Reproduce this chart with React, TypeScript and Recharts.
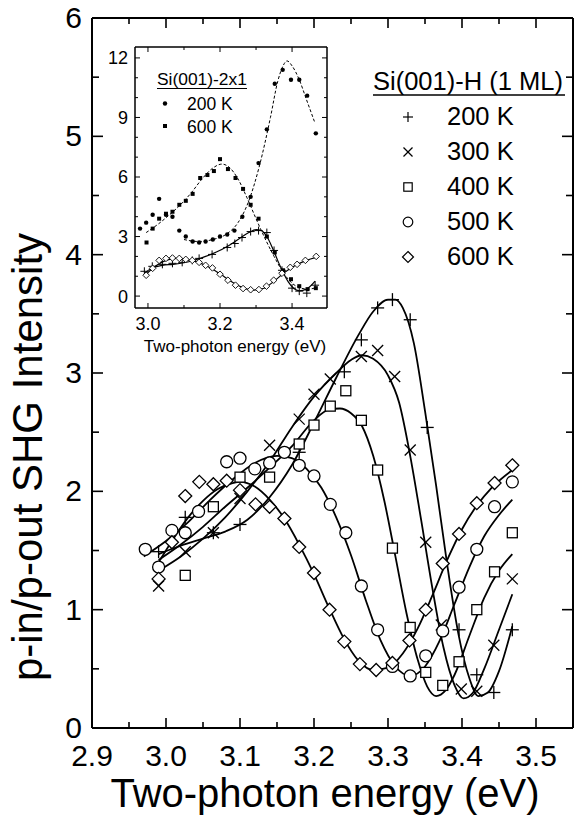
import React from 'react';
import { ComposedChart, Line, Scatter, XAxis, YAxis } from 'recharts';

const FONT = "'Liberation Sans', Arial, Helvetica, sans-serif";

// ---------- Main chart: Si(001)-H (1 ML) measured points ----------
const h200Pts = [[2.99,1.49],[3.026,1.78],[3.064,1.65],[3.10,1.72],[3.18,2.33],[3.241,3.01],[3.264,3.28],[3.286,3.55],[3.306,3.62],[3.33,3.45],[3.353,2.54],[3.396,0.83],[3.42,0.45],[3.443,0.30],[3.468,0.83]];
const h300Pts = [[2.99,1.20],[3.026,1.49],[3.064,1.65],[3.10,1.94],[3.14,2.39],[3.18,2.61],[3.20,2.82],[3.222,2.95],[3.264,3.14],[3.286,3.19],[3.309,2.97],[3.33,2.35],[3.351,1.57],[3.372,0.87],[3.399,0.33],[3.42,0.31],[3.443,0.70],[3.468,1.26]];
const h400Pts = [[3.026,1.29],[3.064,1.87],[3.10,2.12],[3.14,2.12],[3.18,2.40],[3.20,2.56],[3.222,2.72],[3.243,2.85],[3.264,2.60],[3.286,2.18],[3.306,1.52],[3.33,0.85],[3.351,0.47],[3.374,0.36],[3.396,0.56],[3.42,1.00],[3.444,1.32],[3.468,1.65]];
const h500Pts = [[2.972,1.51],[2.99,1.36],[3.008,1.67],[3.026,1.65],[3.044,1.83],[3.082,2.25],[3.10,2.28],[3.12,2.19],[3.14,2.24],[3.16,2.33],[3.18,2.22],[3.20,2.13],[3.222,1.89],[3.243,1.65],[3.264,1.20],[3.286,0.83],[3.306,0.52],[3.33,0.44],[3.351,0.61],[3.374,0.82],[3.396,1.19],[3.42,1.51],[3.444,1.87],[3.468,2.08]];
const h600Pts = [[2.99,1.26],[3.008,1.57],[3.026,1.96],[3.045,2.08],[3.064,2.06],[3.082,2.09],[3.10,2.01],[3.121,1.89],[3.14,1.87],[3.16,1.77],[3.18,1.53],[3.20,1.31],[3.221,1.00],[3.241,0.73],[3.262,0.54],[3.284,0.49],[3.306,0.55],[3.329,0.74],[3.351,1.00],[3.374,1.39],[3.396,1.64],[3.42,1.90],[3.444,2.07],[3.468,2.22]];

// ---------- Main chart: fitted curves ----------
const h200Fit = [[2.99,1.47],[3.02,1.54],[3.05,1.60],[3.08,1.66],[3.11,1.76],[3.14,1.95],[3.17,2.22],[3.20,2.58],[3.23,2.96],[3.26,3.32],[3.28,3.52],[3.30,3.62],[3.31,3.62],[3.32,3.55],[3.335,3.25],[3.35,2.68],[3.365,2.05],[3.38,1.38],[3.395,0.80],[3.41,0.42],[3.422,0.27],[3.435,0.30],[3.45,0.48],[3.468,0.86]];
const h300Fit = [[2.99,1.33],[3.02,1.45],[3.05,1.60],[3.08,1.78],[3.11,2.00],[3.14,2.25],[3.17,2.54],[3.20,2.80],[3.23,3.00],[3.25,3.11],[3.265,3.15],[3.28,3.12],[3.30,2.98],[3.315,2.75],[3.33,2.30],[3.345,1.75],[3.36,1.18],[3.375,0.68],[3.39,0.36],[3.402,0.25],[3.415,0.30],[3.43,0.50],[3.45,0.83],[3.468,1.13]];
const h400Fit = [[2.99,1.42],[3.02,1.55],[3.05,1.70],[3.08,1.87],[3.11,2.03],[3.14,2.20],[3.17,2.38],[3.20,2.60],[3.22,2.69],[3.235,2.70],[3.25,2.66],[3.265,2.55],[3.28,2.30],[3.295,1.92],[3.31,1.45],[3.325,0.97],[3.34,0.58],[3.353,0.35],[3.365,0.27],[3.378,0.32],[3.39,0.45],[3.41,0.78],[3.43,1.10],[3.45,1.33],[3.468,1.47]];
const h500Fit = [[2.97,1.45],[3.00,1.58],[3.03,1.74],[3.06,1.93],[3.09,2.10],[3.12,2.24],[3.15,2.30],[3.17,2.28],[3.19,2.19],[3.21,2.03],[3.23,1.78],[3.25,1.46],[3.27,1.08],[3.29,0.74],[3.31,0.52],[3.33,0.44],[3.35,0.52],[3.37,0.74],[3.39,1.05],[3.41,1.36],[3.43,1.62],[3.45,1.80],[3.468,1.93]];
const h600Fit = [[2.99,1.40],[3.01,1.60],[3.03,1.78],[3.05,1.92],[3.07,2.02],[3.09,2.07],[3.10,2.08],[3.12,2.04],[3.14,1.93],[3.16,1.77],[3.18,1.55],[3.20,1.30],[3.22,1.02],[3.24,0.76],[3.26,0.57],[3.28,0.49],[3.30,0.51],[3.32,0.63],[3.34,0.84],[3.36,1.12],[3.38,1.42],[3.40,1.68],[3.42,1.88],[3.44,2.03],[3.468,2.18]];

// ---------- Inset data ----------
const c200Pts = [[2.978,3.4],[2.995,3.7],[3.013,4.1],[3.031,4.9],[3.05,4.1],[3.068,4.0],[3.087,3.3],[3.105,3.0],[3.124,2.75],[3.142,2.7],[3.16,2.75],[3.18,2.85],[3.2,3.0],[3.22,3.1],[3.24,3.3],[3.262,4.0],[3.285,5.0],[3.307,6.7],[3.33,8.4],[3.352,10.7],[3.374,11.4],[3.397,10.9],[3.42,10.9],[3.442,10.1],[3.466,8.2]];
const c200Fit = [[3.10,2.85],[3.14,2.75],[3.18,2.85],[3.22,3.15],[3.25,3.7],[3.28,4.8],[3.31,6.6],[3.34,9.0],[3.36,10.8],[3.375,11.6],[3.386,11.85],[3.40,11.6],[3.42,10.9],[3.44,9.9],[3.462,8.8]];
const c600Pts = [[2.996,2.7],[3.013,3.4],[3.031,3.9],[3.05,4.15],[3.068,4.25],[3.087,4.6],[3.105,4.8],[3.124,5.15],[3.145,5.95],[3.165,6.1],[3.183,6.3],[3.2,6.9],[3.222,6.4],[3.243,5.95],[3.264,5.4],[3.285,4.6],[3.307,3.9],[3.33,3.0],[3.352,2.2],[3.375,1.3],[3.397,0.85],[3.42,0.5],[3.443,0.35],[3.466,0.4]];
const c600Fit = [[2.995,3.2],[3.03,3.65],[3.06,4.1],[3.09,4.6],[3.12,5.2],[3.15,5.9],[3.18,6.45],[3.205,6.65],[3.225,6.5],[3.25,5.9],[3.275,4.95],[3.30,3.9],[3.325,2.9],[3.35,2.0],[3.375,1.2],[3.40,0.65],[3.425,0.4],[3.445,0.35],[3.462,0.4]];
const i200Pts = [[2.99,1.25],[3.012,1.5],[3.04,1.6],[3.068,1.65],[3.095,1.7],[3.123,1.8],[3.142,1.9],[3.178,2.1],[3.22,2.45],[3.241,2.65],[3.261,2.95],[3.285,3.25],[3.307,3.3],[3.33,3.2],[3.35,2.3],[3.372,1.3],[3.40,0.4],[3.42,0.25],[3.441,0.15],[3.464,0.55]];
const i200Fit = [[2.99,1.15],[3.01,1.4],[3.04,1.55],[3.07,1.6],[3.10,1.68],[3.13,1.82],[3.16,2.0],[3.19,2.22],[3.22,2.5],[3.25,2.85],[3.28,3.2],[3.30,3.35],[3.315,3.3],[3.33,3.0],[3.345,2.45],[3.36,1.8],[3.375,1.2],[3.39,0.7],[3.405,0.38],[3.42,0.27],[3.44,0.35],[3.464,0.75]];
const i600Pts = [[2.995,1.05],[3.013,1.4],[3.031,1.8],[3.05,1.9],[3.068,1.92],[3.087,1.9],[3.105,1.85],[3.123,1.8],[3.142,1.7],[3.16,1.55],[3.179,1.42],[3.2,1.1],[3.222,0.8],[3.243,0.55],[3.264,0.38],[3.285,0.32],[3.308,0.33],[3.329,0.5],[3.349,0.8],[3.372,1.15],[3.395,1.45],[3.414,1.6],[3.437,1.8],[3.467,2.0]];
const i600Fit = [[2.99,1.0],[3.02,1.5],[3.05,1.8],[3.08,1.9],[3.11,1.85],[3.14,1.7],[3.17,1.45],[3.20,1.12],[3.23,0.75],[3.26,0.45],[3.29,0.3],[3.32,0.38],[3.35,0.75],[3.38,1.2],[3.41,1.55],[3.44,1.8],[3.467,1.95]];

// ---------- Axes ----------
const mainXTicks = [2.9,2.95,3.0,3.05,3.1,3.15,3.2,3.25,3.3,3.35,3.4,3.45,3.5];
const mainYTicks = [0,0.5,1,1.5,2,2.5,3,3.5,4,4.5,5,5.5,6];
const insetXTicks = [3.0,3.1,3.2,3.3,3.4];
const insetYTicks = [0,1,2,3,4,5,6,7,8,9,10,11,12];

const legendMain = ['200 K','300 K','400 K','500 K','600 K'];
const legendInset = ['200 K','600 K'];

const toXY = (a: number[][]) => a.map(([x, y]) => ({ x, y }));
const isMult = (v: number, s: number) => Math.abs(v / s - Math.round(v / s)) < 1e-6;

// ---------- marker shapes ----------
const plus = (cx: number, cy: number, r: number, sw: number) => (
  <g stroke="#000" strokeWidth={sw}>
    <line x1={cx - r} x2={cx + r} y1={cy} y2={cy} />
    <line x1={cx} x2={cx} y1={cy - r} y2={cy + r} />
  </g>
);
const cross = (cx: number, cy: number, r: number, sw: number) => (
  <g stroke="#000" strokeWidth={sw}>
    <line x1={cx - r} x2={cx + r} y1={cy - r} y2={cy + r} />
    <line x1={cx - r} x2={cx + r} y1={cy + r} y2={cy - r} />
  </g>
);
const square = (cx: number, cy: number, r: number, sw: number) => (
  <rect x={cx - r} y={cy - r} width={2 * r} height={2 * r} fill="#fff" stroke="#000" strokeWidth={sw} />
);
const circle = (cx: number, cy: number, r: number, sw: number) => (
  <circle cx={cx} cy={cy} r={r} fill="#fff" stroke="#000" strokeWidth={sw} />
);
const diamond = (cx: number, cy: number, r: number, sw: number) => (
  <path d={`M${cx},${cy - r}L${cx + r},${cy}L${cx},${cy + r}L${cx - r},${cy}Z`} fill="#fff" stroke="#000" strokeWidth={sw} />
);
const dot = (cx: number, cy: number, r: number) => <circle cx={cx} cy={cy} r={r} fill="#000" />;
const fsq = (cx: number, cy: number, r: number) => <rect x={cx - r} y={cy - r} width={2 * r} height={2 * r} fill="#000" />;

const shp = (fn: (cx: number, cy: number) => React.ReactElement) => (p: any) => fn(p.cx, p.cy);

// ---------- ticks ----------
const MainBottomTick = (p: any) => {
  const v = p.payload.value; const major = isMult(v, 0.1);
  return (
    <g>
      <line x1={p.x} x2={p.x} y1={p.y} y2={p.y - (major ? 10 : 6)} stroke="#000" strokeWidth={1.6} />
      {major && <text x={p.x} y={p.y + 38} textAnchor="middle" fontSize={30} fontFamily={FONT} fill="#000">{v.toFixed(1)}</text>}
    </g>
  );
};
const MainTopTick = (p: any) => {
  const v = p.payload.value; const major = isMult(v, 0.1);
  return <line x1={p.x} x2={p.x} y1={p.y} y2={p.y + (major ? 10 : 6)} stroke="#000" strokeWidth={1.6} />;
};
const MainLeftTick = (p: any) => {
  const v = p.payload.value; const major = isMult(v, 1);
  return (
    <g>
      <line x1={p.x} x2={p.x + (major ? 11 : 7)} y1={p.y} y2={p.y} stroke="#000" strokeWidth={1.6} />
      {major && <text x={p.x - 10} y={p.y} dy="0.33em" textAnchor="end" fontSize={30} fontFamily={FONT} fill="#000">{String(v)}</text>}
    </g>
  );
};
const MainRightTick = (p: any) => {
  const v = p.payload.value; const major = isMult(v, 1);
  return <line x1={p.x} x2={p.x - (major ? 11 : 7)} y1={p.y} y2={p.y} stroke="#000" strokeWidth={1.6} />;
};
const InsetBottomTick = (p: any) => {
  const v = p.payload.value; const major = isMult(v, 0.2);
  return (
    <g>
      <line x1={p.x} x2={p.x} y1={p.y} y2={p.y - (major ? 5 : 3)} stroke="#000" strokeWidth={1} />
      {major && <text x={p.x} y={p.y + 22} textAnchor="middle" fontSize={18} fontFamily={FONT} fill="#000">{v.toFixed(1)}</text>}
    </g>
  );
};
const InsetTopTick = (p: any) => {
  const v = p.payload.value; const major = isMult(v, 0.2);
  return <line x1={p.x} x2={p.x} y1={p.y} y2={p.y + (major ? 5 : 3)} stroke="#000" strokeWidth={1} />;
};
const InsetLeftTick = (p: any) => {
  const v = p.payload.value; const major = isMult(v, 3);
  return (
    <g>
      <line x1={p.x} x2={p.x + (major ? 5 : 3)} y1={p.y} y2={p.y} stroke="#000" strokeWidth={1} />
      {major && <text x={p.x - 7} y={p.y} dy="0.36em" textAnchor="end" fontSize={18} fontFamily={FONT} fill="#000">{String(v)}</text>}
    </g>
  );
};
const InsetRightTick = (p: any) => {
  const v = p.payload.value; const major = isMult(v, 3);
  return <line x1={p.x} x2={p.x - (major ? 5 : 3)} y1={p.y} y2={p.y} stroke="#000" strokeWidth={1} />;
};

const W = 579, H = 829;
const mainShapes = [
  (cx: number, cy: number) => plus(cx, cy, 6.5, 1.3),
  (cx: number, cy: number) => cross(cx, cy, 5.5, 1.3),
  (cx: number, cy: number) => square(cx, cy, 5, 1.3),
  (cx: number, cy: number) => circle(cx, cy, 6, 1.3),
  (cx: number, cy: number) => diamond(cx, cy, 6.5, 1.3),
];
const legShapes = [
  (cx: number, cy: number) => plus(cx, cy, 5, 1.2),
  (cx: number, cy: number) => cross(cx, cy, 4.5, 1.2),
  (cx: number, cy: number) => square(cx, cy, 4.2, 1.2),
  (cx: number, cy: number) => circle(cx, cy, 4.8, 1.2),
  (cx: number, cy: number) => diamond(cx, cy, 5.5, 1.2),
];

export default function App() {
  const mainPts = [h200Pts, h300Pts, h400Pts, h500Pts, h600Pts];
  const mainFits = [h200Fit, h300Fit, h400Fit, h500Fit, h600Fit];
  return (
    <div style={{ position: 'absolute', left: 0, top: 0, width: W, height: H, background: '#fff' }}>
      <div style={{ position: 'absolute', left: 0, top: 0 }}>
        <ComposedChart width={W} height={H} margin={{ top: 0, right: 0, bottom: 0, left: 0 }}>
          <XAxis xAxisId="b" type="number" dataKey="x" domain={[2.9, 3.55]} ticks={mainXTicks} interval={0}
            orientation="bottom" height={101} tickSize={0} tickMargin={0} tickLine={false}
            axisLine={{ stroke: '#000', strokeWidth: 2 }} tick={MainBottomTick} allowDataOverflow />
          <XAxis xAxisId="t" type="number" dataKey="x" domain={[2.9, 3.55]} ticks={mainXTicks} interval={0}
            orientation="top" height={18} tickSize={0} tickMargin={0} tickLine={false}
            axisLine={{ stroke: '#000', strokeWidth: 2 }} tick={MainTopTick} allowDataOverflow />
          <YAxis yAxisId="l" type="number" dataKey="y" domain={[0, 6]} ticks={mainYTicks} interval={0}
            orientation="left" width={92} tickSize={0} tickMargin={0} tickLine={false}
            axisLine={{ stroke: '#000', strokeWidth: 2 }} tick={MainLeftTick} allowDataOverflow />
          <YAxis yAxisId="r" type="number" dataKey="y" domain={[0, 6]} ticks={mainYTicks} interval={0}
            orientation="right" width={6} tickSize={0} tickMargin={0} tickLine={false}
            axisLine={{ stroke: '#000', strokeWidth: 2 }} tick={MainRightTick} allowDataOverflow />
          {mainFits.map((f, i) => (
            <Line key={'f' + i} xAxisId="b" yAxisId="l" data={toXY(f)} dataKey="y" type="monotone"
              stroke="#000" strokeWidth={1.8} dot={false} activeDot={false} isAnimationActive={false} />
          ))}
          {mainPts.map((d, i) => (
            <Scatter key={'p' + i} xAxisId="b" yAxisId="l" data={toXY(d)} dataKey="y"
              shape={shp(mainShapes[i])} isAnimationActive={false} />
          ))}
        </ComposedChart>
      </div>

      <div style={{ position: 'absolute', left: 0, top: 0 }}>
        <ComposedChart width={340} height={370} margin={{ top: 0, right: 0, bottom: 0, left: 0 }}>
          <XAxis xAxisId="b" type="number" dataKey="x" domain={[2.964, 3.497]} ticks={insetXTicks} interval={0}
            orientation="bottom" height={62} tickSize={0} tickMargin={0} tickLine={false}
            axisLine={{ stroke: '#000', strokeWidth: 1.5 }} tick={InsetBottomTick} allowDataOverflow />
          <XAxis xAxisId="t" type="number" dataKey="x" domain={[2.964, 3.497]} ticks={insetXTicks} interval={0}
            orientation="top" height={47} tickSize={0} tickMargin={0} tickLine={false}
            axisLine={{ stroke: '#000', strokeWidth: 1.5 }} tick={InsetTopTick} allowDataOverflow />
          <YAxis yAxisId="l" type="number" dataKey="y" domain={[-0.6, 12.55]} ticks={insetYTicks} interval={0}
            orientation="left" width={135} tickSize={0} tickMargin={0} tickLine={false}
            axisLine={{ stroke: '#000', strokeWidth: 1.5 }} tick={InsetLeftTick} allowDataOverflow />
          <YAxis yAxisId="r" type="number" dataKey="y" domain={[-0.6, 12.55]} ticks={insetYTicks} interval={0}
            orientation="right" width={13} tickSize={0} tickMargin={0} tickLine={false}
            axisLine={{ stroke: '#000', strokeWidth: 1.5 }} tick={InsetRightTick} allowDataOverflow />
          <Line xAxisId="b" yAxisId="l" data={toXY(c200Fit)} dataKey="y" type="monotone" stroke="#000"
            strokeWidth={1} strokeDasharray="3 2" dot={false} activeDot={false} isAnimationActive={false} />
          <Line xAxisId="b" yAxisId="l" data={toXY(c600Fit)} dataKey="y" type="monotone" stroke="#000"
            strokeWidth={1} strokeDasharray="3 2" dot={false} activeDot={false} isAnimationActive={false} />
          <Line xAxisId="b" yAxisId="l" data={toXY(i200Fit)} dataKey="y" type="monotone" stroke="#000"
            strokeWidth={1.2} dot={false} activeDot={false} isAnimationActive={false} />
          <Line xAxisId="b" yAxisId="l" data={toXY(i600Fit)} dataKey="y" type="monotone" stroke="#000"
            strokeWidth={1.2} dot={false} activeDot={false} isAnimationActive={false} />
          <Scatter xAxisId="b" yAxisId="l" data={toXY(c200Pts)} dataKey="y" shape={shp((cx, cy) => dot(cx, cy, 2.2))} isAnimationActive={false} />
          <Scatter xAxisId="b" yAxisId="l" data={toXY(c600Pts)} dataKey="y" shape={shp((cx, cy) => fsq(cx, cy, 2))} isAnimationActive={false} />
          <Scatter xAxisId="b" yAxisId="l" data={toXY(i200Pts)} dataKey="y" shape={shp((cx, cy) => plus(cx, cy, 4, 1))} isAnimationActive={false} />
          <Scatter xAxisId="b" yAxisId="l" data={toXY(i600Pts)} dataKey="y" shape={shp((cx, cy) => diamond(cx, cy, 3.3, 0.9))} isAnimationActive={false} />
        </ComposedChart>
      </div>

      <svg width={W} height={H} style={{ position: 'absolute', left: 0, top: 0, pointerEvents: 'none' }}>
        <g fontFamily={FONT} fill="#000">
          <text transform="translate(42,457) rotate(-90)" textAnchor="middle" fontSize={42}>p-in/p-out SHG Intensity</text>
          <text x={325} y={807} textAnchor="middle" fontSize={40}>Two-photon energy (eV)</text>
          <text x={235} y={352} textAnchor="middle" fontSize={17}>Two-photon energy (eV)</text>

          <text x={373} y={90} fontSize={25.5}>Si(001)-H (1 ML)</text>
          <line x1={373} x2={565} y1={95} y2={95} stroke="#000" strokeWidth={1.6} />
          {legendMain.map((t, i) => (
            <g key={t}>
              {legShapes[i](408, 117 + i * 35)}
              <text x={447} y={125 + i * 35} fontSize={25.5}>{t}</text>
            </g>
          ))}

          <text x={157} y={85} fontSize={17.4}>Si(001)-2x1</text>
          <line x1={157} x2={247} y1={88.5} y2={88.5} stroke="#000" strokeWidth={1.1} />
          {dot(165, 103.5, 2.2)}
          {fsq(165, 126, 2)}
          {legendInset.map((t, i) => (
            <text key={t} x={187} y={110 + i * 22.5} fontSize={17.5}>{t}</text>
          ))}
        </g>
      </svg>
    </div>
  );
}
